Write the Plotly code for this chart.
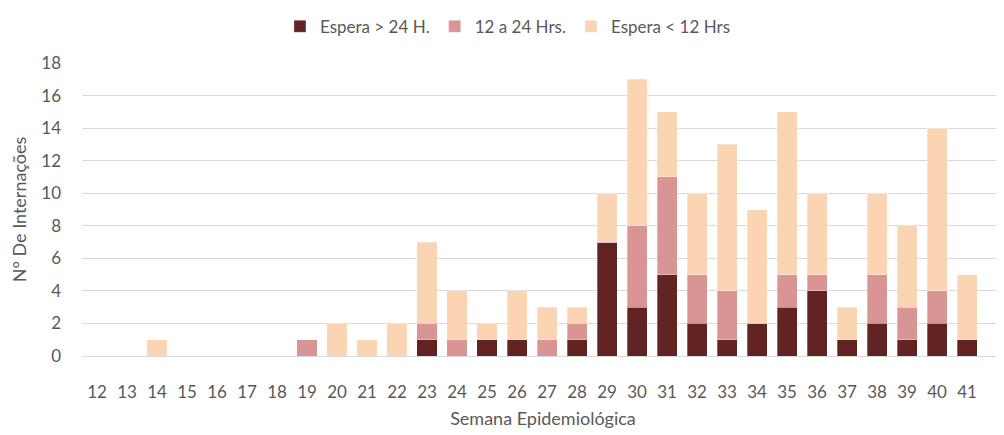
import plotly.graph_objects as go

weeks = [str(w) for w in range(12, 42)]
espera_24 = [0, 0, 0, 0, 0, 0, 0, 0, 0, 0, 0, 1, 0, 1, 1, 0, 1, 7, 3, 5,
             2, 1, 2, 3, 4, 1, 2, 1, 2, 1]
espera_12_24 = [0, 0, 0, 0, 0, 0, 0, 1, 0, 0, 0, 1, 1, 0, 0, 1, 1, 0, 5, 6,
                3, 3, 0, 2, 1, 0, 3, 2, 2, 0]
espera_12 = [0, 0, 1, 0, 0, 0, 0, 0, 2, 1, 2, 5, 3, 1, 3, 2, 1, 3, 9, 4,
             5, 9, 7, 10, 5, 2, 5, 5, 10, 4]

font_txt = "Lato, 'Open Sans', sans-serif"
grey = "#595959"

fig = go.Figure()
series = [
    ("Espera > 24 H.", espera_24, "#622423"),
    ("12 a 24 Hrs.", espera_12_24, "#D99594"),
    ("Espera < 12 Hrs", espera_12, "#FBD4B4"),
]
for name, vals, col in series:
    fig.add_trace(go.Bar(
        x=weeks, y=vals, name=name,
        marker=dict(color=col, line=dict(color="rgba(255,255,255,0.6)", width=0.5)),
    ))

# page body has an 8px default margin, so the figure is a bit smaller
fig.update_layout(
    barmode="stack",
    bargap=0.33,
    width=996, height=427,
    margin=dict(l=74, r=0, t=55, b=79, autoexpand=False),
    plot_bgcolor="white", paper_bgcolor="white",
    font=dict(family=font_txt, color=grey, size=17),
    legend=dict(orientation="h", x=0.462, xanchor="center", y=1.185, yanchor="top",
                font=dict(size=17), traceorder="normal",
                itemwidth=30, tracegroupgap=0),
    xaxis=dict(
        type="category", range=[-0.5, 30.23], showgrid=False, automargin=False,
        showline=False, ticks="", ticklabelstandoff=24,
        tickfont=dict(size=17, color=grey),
        title=dict(text="Semana Epidemiológica", font=dict(size=18, color=grey), standoff=11),
    ),
    yaxis=dict(
        range=[0, 18], dtick=2, showgrid=True, gridcolor="#D9D9D9", gridwidth=1,
        zeroline=True, zerolinecolor="#D9D9D9", zerolinewidth=1, automargin=False,
        ticks="", ticklabelstandoff=20, tickfont=dict(size=17, color=grey),
        title=dict(text="N° De Internações", font=dict(size=18, color=grey), standoff=14),
    ),
)

fig.write_html("out.html")
